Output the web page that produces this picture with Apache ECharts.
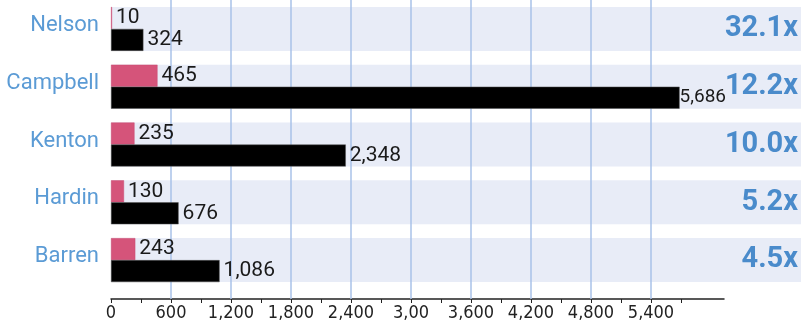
<!DOCTYPE html>
<html><head><meta charset="utf-8">
<script src="https://cdn.jsdelivr.net/npm/echarts@6/dist/echarts.min.js"></script>
<style>html,body{margin:0;padding:0;background:#fff}#c{width:801px;height:326px}</style>
</head><body><div id="c"></div>
<script>
const counties = ['Nelson', 'Campbell', 'Kenton', 'Hardin', 'Barren'];
const pinkValues = [10, 465, 235, 130, 243];
const blackValues = [324, 5686, 2348, 676, 1086];
const ratioLabels = ['32.1x', '12.2x', '10.0x', '5.2x', '4.5x'];
const tickValues = [0, 600, 1200, 1800, 2400, 3000, 3600, 4200, 4800, 5400];
const tickLabels = ['0', '600', '1,200', '1,800', '2,400', '3,00', '3,600', '4,200', '4,800', '5,400'];
const minorTickValues = [0, 300, 600, 900, 1200, 1500, 1800, 2100, 2400, 2700, 3000, 3300, 3600, 3900, 4200, 4500, 4800, 5100, 5400, 5700];
const gridLineValues = [600, 1200, 1800, 2400, 3000, 3600, 4200, 4800, 5400];
const axisMax = 6130;

const chart = echarts.init(document.getElementById('c'), null, {renderer: 'canvas'});
const valueLabel = {
  show: true, position: 'right', distance: 4,
  fontFamily: 'Roboto', fontSize: 21, color: '#1a1a1a',
  formatter: p => Number(p.value).toLocaleString('en-US')
};
// the longest bar's label is set tighter so it does not run into the ratio column
const blackData = blackValues.map(v => v > 5000 ? {value: v, label: {fontSize: 19, distance: 0}} : v);
chart.setOption({
  animation: false,
  backgroundColor: '#ffffff',
  grid: [
    {left: 111, right: 77, top: 0, height: 299},
    {left: 111, right: 77, top: 0, height: 289},
    {left: 111, right: 0, top: 0, height: 289}
  ],
  xAxis: [
    {gridIndex: 0, type: 'value', min: 0, max: axisMax, interval: 600,
     axisLine: {show: true, onZero: false, lineStyle: {color: '#222', width: 1.5}},
     axisTick: {show: true, customValues: minorTickValues, length: 4, lineStyle: {color: '#222', width: 1}},
     axisLabel: {customValues: tickValues, formatter: v => tickLabels[tickValues.indexOf(v)],
       fontFamily: "'DejaVu Sans Condensed', Roboto", fontSize: 18, color: '#222', margin: 5},
     splitLine: {show: false}},
    {gridIndex: 1, type: 'value', min: 0, max: axisMax, show: false},
    {gridIndex: 2, type: 'value', min: 0, max: 1, show: false}
  ],
  yAxis: [
    {gridIndex: 0, type: 'value', min: 0, max: 1, show: false},
    {gridIndex: 1, type: 'category', data: counties, inverse: true,
     axisLine: {show: false}, axisTick: {show: false}, splitLine: {show: false},
     axisLabel: {color: '#5b9bd5', fontSize: 22, fontFamily: 'Roboto', margin: 12,
       verticalAlign: 'bottom', lineHeight: 7}},
    {gridIndex: 2, type: 'category', data: counties, inverse: true, show: false}
  ],
  series: [
    {type: 'bar', name: 'band', xAxisIndex: 2, yAxisIndex: 2, z: 0, silent: true,
     barWidth: 44, data: counties.map(() => 1),
     itemStyle: {color: '#e8ecf7'},
     label: {show: true, position: 'insideRight', distance: 3,
       formatter: p => ratioLabels[p.dataIndex],
       fontFamily: 'Roboto', fontWeight: 'bold', fontSize: 29, color: '#4a8bcb'}},
    {type: 'line', name: 'grid', xAxisIndex: 0, yAxisIndex: 0, z: 1, data: [], silent: true,
     markLine: {symbol: 'none', silent: true, z: 1, label: {show: false}, animation: false,
       lineStyle: {color: '#a9c2e8', width: 1.5, type: 'solid'},
       data: gridLineValues.map(v => ({xAxis: v}))}},
    {type: 'bar', name: 'pink', xAxisIndex: 1, yAxisIndex: 1, z: 3,
     barWidth: 22, barGap: '0%', data: pinkValues,
     itemStyle: {color: '#d5547a', borderColor: '#c94a70', borderWidth: 0.5}, label: valueLabel},
    {type: 'bar', name: 'black', xAxisIndex: 1, yAxisIndex: 1, z: 3,
     barWidth: 22, barGap: '0%', data: blackData,
     itemStyle: {color: '#000000', borderColor: '#555', borderWidth: 0.5}, label: valueLabel}
  ]
});
</script>
</body></html>
